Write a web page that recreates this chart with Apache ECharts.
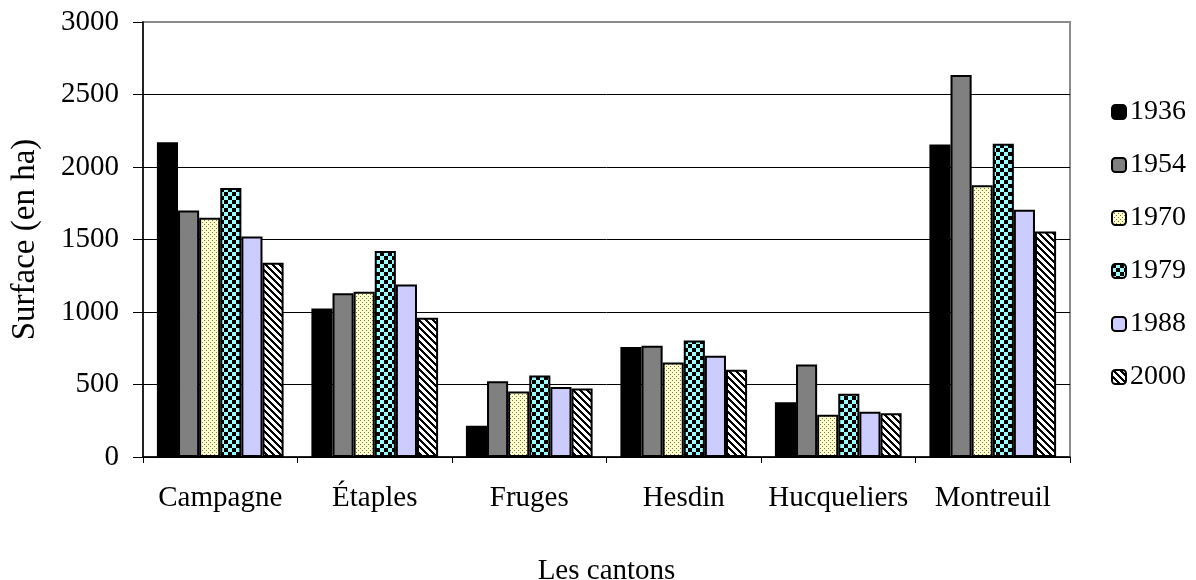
<!DOCTYPE html>
<html>
<head>
<meta charset="utf-8">
<script src="https://cdn.jsdelivr.net/npm/echarts@6/dist/echarts.min.js"></script>
<style>html,body{margin:0;padding:0;background:#fff;}#c{width:1196px;height:580px;}</style>
</head>
<body>
<div id="c"></div>
<script>
const categories = ['Campagne', 'Étaples', 'Fruges', 'Hesdin', 'Hucqueliers', 'Montreuil'];
const years = ['1936', '1954', '1970', '1979', '1988', '2000'];
const v1936 = [2170, 1025, 215, 758, 378, 2155];
const v1954 = [1700, 1130, 522, 768, 638, 2635];
const v1970 = [1650, 1140, 452, 652, 292, 1875];
const v1979 = [1855, 1420, 562, 803, 437, 2160];
const v1988 = [1520, 1190, 482, 698, 312, 1705];
const v2000 = [1340, 960, 472, 602, 302, 1555];
const yTicks = [0, 500, 1000, 1500, 2000, 2500, 3000];
const seriesValues = [v1936, v1954, v1970, v1979, v1988, v2000];

function makePattern(w, h, fn) {
  const c = document.createElement('canvas');
  c.width = w; c.height = h;
  const ctx = c.getContext('2d');
  const img = ctx.createImageData(w, h);
  for (let y = 0; y < h; y++) for (let x = 0; x < w; x++) {
    const col = fn(x, y);
    const i = (y * w + x) * 4;
    img.data[i] = col[0]; img.data[i+1] = col[1]; img.data[i+2] = col[2]; img.data[i+3] = 255;
  }
  ctx.putImageData(img, 0, 0);
  return { image: c, repeat: 'repeat' };
}
const dotted = makePattern(4, 4, (x, y) => ((x === 0 && y === 0) || (x === 2 && y === 2)) ? [120,120,90] : [255,255,204]);
const checker = makePattern(8, 8, (x, y) => ((Math.floor(x/4) + Math.floor(y/4)) % 2 === 0) ? [0,0,0] : [153,255,255]);
const stripes = makePattern(7, 7, (x, y) => (((x - y) % 7 + 7) % 7 < 3) ? [0,0,0] : [255,255,255]);

const fills = ['#000000', '#808080', dotted, checker, '#CCCCFF', stripes];
const font = 'Liberation Serif';

const series = years.map((y, i) => ({
  name: y,
  type: 'bar',
  data: seriesValues[i],
  barGap: '0%',
  barCategoryGap: '18%',
  itemStyle: { color: fills[i], borderColor: '#000', borderWidth: 2 },
  emphasis: { disabled: true }
}));

const chart = echarts.init(document.getElementById('c'), null, { renderer: 'canvas' });
chart.setOption({
  animation: false,
  backgroundColor: '#fff',
  textStyle: { fontFamily: font, color: '#000' },
  grid: { left: 143, right: 126, top: 22, bottom: 123, containLabel: false, outerBoundsMode: 'none', show: true, borderColor: '#8c8c8c', borderWidth: 2, backgroundColor: 'transparent' },
  legend: {
    orient: 'vertical', left: 1106, top: 93,
    itemWidth: 14, itemHeight: 14, itemGap: 25,
    textStyle: { fontFamily: font, fontSize: 28, color: '#000', padding: [0,0,0,-1] },
    data: years
  },
  xAxis: {
    type: 'category', data: categories,
    name: 'Les cantons', nameLocation: 'middle', nameGap: 100,
    nameTextStyle: { fontFamily: font, fontSize: 29, color: '#000' },
    axisLine: { lineStyle: { color: '#000', width: 1.5 } },
    axisTick: { show: true, length: 6, lineStyle: { color: '#000' } },
    axisLabel: { interval: 0, fontFamily: font, fontSize: 29, color: '#000', margin: 27 }
  },
  yAxis: {
    type: 'value', min: yTicks[0], max: yTicks[yTicks.length-1], interval: 500,
    name: 'Surface (en ha)', nameLocation: 'middle', nameGap: 101, nameRotate: 90,
    nameTextStyle: { fontFamily: font, fontSize: 33, color: '#000' },
    axisLine: { show: true, lineStyle: { color: '#000', width: 1.5 } },
    axisTick: { show: true, length: 10, lineStyle: { color: '#000' } },
    axisLabel: { fontFamily: font, fontSize: 29, color: '#000', margin: 24, formatter: (v) => String(v) },
    splitLine: { show: true, lineStyle: { color: ['#000','#000','#000','#000','#000','#000','#8c8c8c'], width: 1 } }
  },
  series: series
});
</script>
</body>
</html>
